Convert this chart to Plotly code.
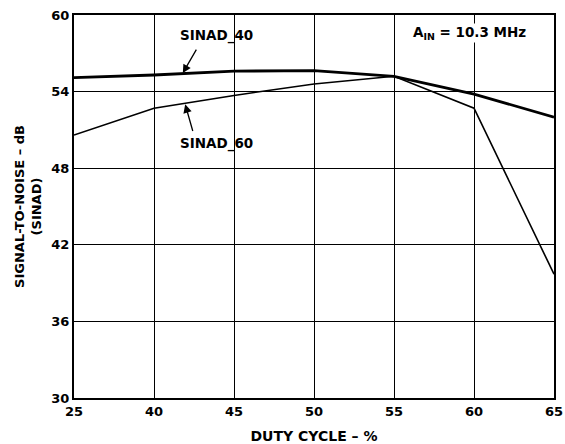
import plotly.graph_objects as go

duty_labels = ["25", "40", "45", "50", "55", "60", "65"]
sinad_40 = [55.1, 55.3, 55.6, 55.65, 55.2, 53.8, 52.0]
sinad_60 = [50.6, 52.7, 53.7, 54.6, 55.2, 52.7, 39.7]
y_ticks = [30, 36, 42, 48, 54, 60]

xpos = list(range(len(duty_labels)))
FONT = "DejaVu Sans, Liberation Sans, sans-serif"
TICK = dict(family=FONT, size=13, color="black", weight="bold")
XT = dict(family=FONT, size=14, color="black", weight="bold")
YT = dict(family=FONT, size=13, color="black", weight="bold")
ANN = dict(family=FONT, size=13.5, color="black", weight="bold")

fig = go.Figure()
fig.add_trace(go.Scatter(x=xpos, y=sinad_60, mode="lines",
                         line=dict(color="black", width=1.6), showlegend=False))
fig.add_trace(go.Scatter(x=xpos, y=sinad_40, mode="lines",
                         line=dict(color="black", width=2.8), showlegend=False))

# labels
fig.add_annotation(x=1.78, y=58.4, xref="x", yref="y", text="SINAD_40",
                   showarrow=False, font=ANN)
fig.add_annotation(x=1.78, y=49.97, xref="x", yref="y", text="SINAD_60",
                   showarrow=False, font=ANN)
# arrows
fig.add_annotation(x=1.36, y=55.45, xref="x", yref="y",
                   ax=1.54, ay=57.4, axref="x", ayref="y", text="",
                   showarrow=True, arrowhead=2, arrowsize=1.3, arrowwidth=1.3,
                   arrowcolor="black")
fig.add_annotation(x=1.39, y=53.0, xref="x", yref="y",
                   ax=1.49, ay=50.8, axref="x", ayref="y", text="",
                   showarrow=True, arrowhead=2, arrowsize=1.3, arrowwidth=1.3,
                   arrowcolor="black")
fig.add_annotation(x=4.94, y=58.6, xref="x", yref="y", showarrow=False,
                   text="A<sub>IN</sub> = 10.3 MHz", font=ANN,
                   bgcolor="white", borderpad=0)

fig.update_xaxes(range=[0, 6], tickvals=xpos, ticktext=duty_labels,
                 showgrid=True, gridcolor="black", gridwidth=1,
                 showline=True, linecolor="black", linewidth=2, mirror=True,
                 ticks="", zeroline=False, automargin=False,
                 tickfont=TICK,
                 title=dict(text="DUTY CYCLE – %", standoff=14, font=XT))
fig.update_yaxes(range=[30, 60], tickvals=y_ticks,
                 showgrid=True, gridcolor="black", gridwidth=1,
                 showline=True, linecolor="black", linewidth=2, mirror=True,
                 ticks="", zeroline=False, automargin=False,
                 tickfont=TICK,
                 title=dict(text="SIGNAL-TO-NOISE – dB<br>(SINAD)", standoff=7, font=YT))

fig.update_layout(width=565, height=444, plot_bgcolor="white", paper_bgcolor="white",
                  margin=dict(l=74, r=11, t=15, b=46), showlegend=False)

fig.write_html("out.html", config={"displayModeBar": False},
               post_script="document.body.style.margin='0';document.body.style.overflow='hidden';")
